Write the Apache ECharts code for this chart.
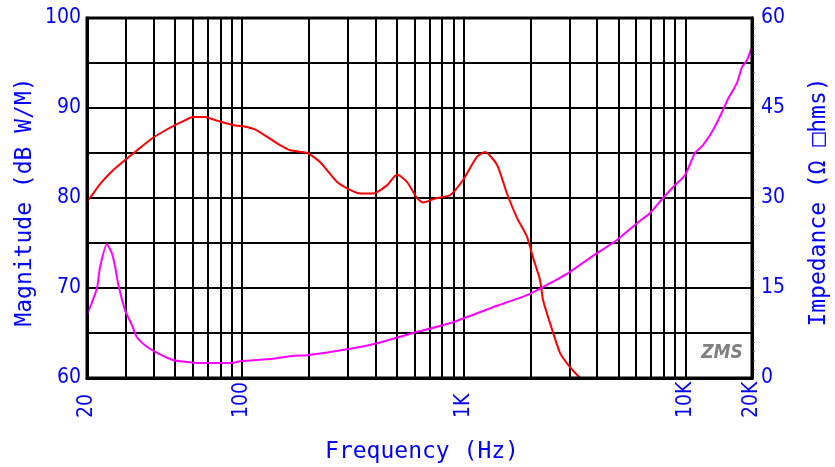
<!DOCTYPE html>
<html>
<head>
<meta charset="utf-8">
<script src="https://cdn.jsdelivr.net/npm/echarts@6/dist/echarts.min.js"></script>
<style>
html,body{margin:0;padding:0;background:#fff;}
#c{width:835px;height:467px;}
</style>
</head>
<body>
<div id="c"></div>
<script>
// Frequency response (Hz, dB)
const splFreq = [20,20.6,23,26,29,34,39.7,45,49.9,55,60,68,77,91,105,115,130,148,165,197,225,268,307,341,390,451,501,555,616,656,758,868,994,1150,1249,1414,1569,1741,1931,2056,2211,2281,2454,2722,3020,3350];
const splDb   = [79.6,80.0,81.6,83.0,84.0,85.4,86.7,87.5,88.1,88.6,89.0,89.0,88.6,88.1,87.9,87.6,86.8,85.9,85.3,85.0,84.0,81.8,80.9,80.5,80.5,81.4,82.6,81.8,80.0,79.5,80.0,80.3,82.0,84.6,85.1,83.7,80.5,77.8,75.7,73.4,70.9,68.7,66.1,62.8,61.2,60.0];
// Impedance (Hz, ohms)
const impFreq = [20,21,22.2,22.9,24.6,25.9,26.8,27.6,29.7,31.9,33.6,37.3,41.4,48.9,55,64.7,80,91,98,138,170,197,298,407,591,896,1357,1932,2454,2722,3020,3996,4920,6056,6932,7935,8800,9960,11060,12020,13330,14640,15580,17110,18020,18990,20000];
const impOhm  = [10.5,12.5,15,18.5,22.3,20.8,18.5,15.8,11.3,8.8,6.8,5.2,4.2,3.0,2.7,2.5,2.5,2.5,2.8,3.2,3.7,3.8,4.8,5.8,7.5,9.3,11.8,13.8,15.8,16.7,17.7,20.8,23,25.8,27.5,30,31.8,33.8,37.5,38.8,41.3,44.3,46.5,49.2,51.8,53,55.2];
// Axis ticks
const xTickValues = [20,100,1000,10000,20000];
const xTickLabels = ['20','100','1K','10K','20K'];
const xGridFreqs = [30,40,50,60,70,80,90,200,300,400,500,600,700,800,900,2000,3000,4000,5000,6000,7000,8000,9000];
const leftLabels = [60,70,80,90,100];
const rightLabels = [0,15,30,45,60];

const BLUE = '#0000ff';
const TICKFONT = '"Liberation Sans Narrow","DejaVu Sans Condensed","Liberation Sans",sans-serif';
const TITLEFONT = '"DejaVu Sans Mono",monospace';

const chart = echarts.init(document.getElementById('c'), null, {renderer:'canvas'});
chart.setOption({
  animation:false,
  backgroundColor:'#fff',
  grid:{left:87,right:83,top:18,bottom:89,show:true,borderColor:'#000',borderWidth:3,backgroundColor:'transparent',z:10},
  xAxis:{
    type:'log', logBase:10, min:20, max:20000,
    axisLine:{show:true,lineStyle:{color:'#000',width:3}},
    axisTick:{show:false},
    splitLine:{show:true,lineStyle:{color:'#000',width:2}},
    axisLabel:{
      show:true, rotate:90, align:'left', verticalAlign:'middle', margin:40,
      color:BLUE, fontFamily:TICKFONT, fontSize:21,
      showMinLabel:true, showMaxLabel:true, hideOverlap:false,
      formatter:function(v){
        for(let i=0;i<xTickValues.length;i++){
          if(Math.abs(v-xTickValues[i])/xTickValues[i] < 0.01) return xTickLabels[i];
        }
        return '';
      }
    }
  },
  yAxis:[
    {type:'value', min:60, max:100, interval:5, position:'left',
     axisLine:{show:true,lineStyle:{color:'#000',width:3}},
     axisTick:{show:false},
     splitLine:{show:true,lineStyle:{color:'#000',width:2}},
     axisLabel:{color:BLUE, fontFamily:TICKFONT, fontSize:21, margin:6,
       formatter:function(v){ return leftLabels.indexOf(Math.round(v))>=0 && Math.abs(v-Math.round(v))<1e-6 ? String(Math.round(v)) : ''; }}
    },
    {type:'value', min:0, max:60, interval:7.5, position:'right',
     axisLine:{show:true,lineStyle:{color:'#000',width:3}},
     axisTick:{show:false},
     minorTick:{show:true,splitNumber:5,length:3,lineStyle:{color:'#888',width:1}},
     splitLine:{show:false},
     axisLabel:{color:BLUE, fontFamily:TICKFONT, fontSize:21, margin:9,
       formatter:function(v){ return rightLabels.indexOf(v)>=0 ? String(v) : ''; }}
    }
  ],
  graphic:[
    {type:'text', x:25, y:202, rotation:Math.PI/2, z:100,
     style:{text:'Magnitude (dB W/M)', fill:BLUE, font:'23px '+TITLEFONT, align:'center', verticalAlign:'middle'}},
    {type:'text', x:819, y:202, rotation:Math.PI/2, z:100,
     style:{text:'Impedance (Ω □hms)', fill:BLUE, font:'23px '+TITLEFONT, align:'center', verticalAlign:'middle'}},
    {type:'text', x:422, y:452, z:100,
     style:{text:'Frequency (Hz)', fill:BLUE, font:'23px '+TITLEFONT, align:'center', verticalAlign:'middle'}},
    {type:'text', x:722, y:353, z:100,
     style:{text:'ZMS', fill:'#808080', font:'italic bold 19px "DejaVu Sans Condensed","Liberation Sans",sans-serif', align:'center', verticalAlign:'middle'}}
  ],
  series:[
    {type:'line', yAxisIndex:0, data:[], silent:true, z:1,
     markLine:{silent:true, symbol:['none','none'], label:{show:false},
       lineStyle:{color:'#000',width:2,type:'solid'},
       data:xGridFreqs.map(f=>({xAxis:f}))}},
    {name:'Magnitude', type:'line', yAxisIndex:0, showSymbol:false, smooth:0.2, z:5,
     lineStyle:{color:'#ff0000',width:2}, itemStyle:{color:'#ff0000'},
     data:splFreq.map((f,i)=>[f,splDb[i]])},
    {name:'Impedance', type:'line', yAxisIndex:1, showSymbol:false, smooth:0.2, z:5,
     lineStyle:{color:'#ff00ff',width:2}, itemStyle:{color:'#ff00ff'},
     data:impFreq.map((f,i)=>[f,impOhm[i]])}
  ]
});
</script>
</body>
</html>
